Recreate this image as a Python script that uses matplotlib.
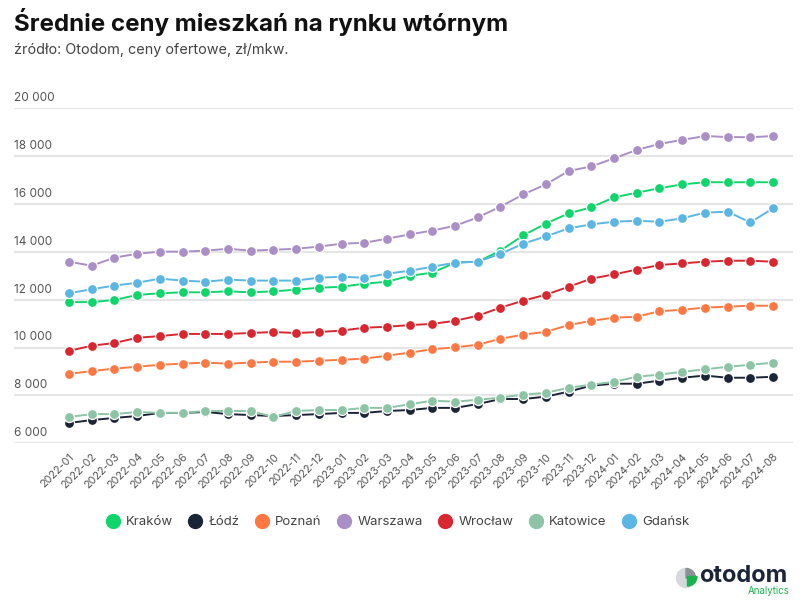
import matplotlib
matplotlib.use("Agg")
import matplotlib.pyplot as plt
import matplotlib.transforms as mtransforms
from matplotlib.lines import Line2D
from matplotlib.patches import Wedge

plt.rcParams['font.family'] = ['Inter', 'DejaVu Sans']

months = ["2022-01","2022-02","2022-03","2022-04","2022-05","2022-06","2022-07","2022-08",
          "2022-09","2022-10","2022-11","2022-12","2023-01","2023-02","2023-03","2023-04",
          "2023-05","2023-06","2023-07","2023-08","2023-09","2023-10","2023-11","2023-12",
          "2024-01","2024-02","2024-03","2024-04","2024-05","2024-06","2024-07","2024-08"]

krakow = [11900,11900,11990,12200,12270,12310,12310,12350,12310,12350,12420,12500,
          12540,12670,12750,13000,13130,13550,13590,14050,14690,15180,15610,15860,
          16280,16470,16660,16820,16910,16910,16910,16910]
lodz = [6850,6970,7060,7140,7270,7270,7310,7220,7180,7140,7180,7220,
        7270,7270,7350,7390,7480,7480,7640,7850,7850,7950,8160,8410,
        8490,8490,8620,8740,8830,8740,8740,8780]
poznan = [8900,9020,9120,9200,9280,9330,9370,9330,9370,9410,9410,9450,
          9490,9540,9660,9790,9930,10010,10120,10370,10540,10660,10940,11120,
          11250,11290,11520,11580,11670,11710,11750,11750]
warszawa = [13590,13420,13760,13920,14010,14010,14050,14130,14050,14090,14130,14220,
            14340,14380,14550,14730,14890,15090,15440,15890,16400,16820,17380,17570,
            17910,18260,18510,18680,18840,18800,18790,18840]
wroclaw = [9860,10080,10190,10410,10480,10570,10570,10570,10610,10650,10610,10650,
           10710,10830,10870,10940,10990,11120,11330,11670,11960,12210,12540,12880,
           13060,13260,13450,13520,13590,13630,13630,13590]
katowice = [7100,7220,7220,7310,7270,7270,7350,7350,7350,7100,7350,7390,
            7390,7480,7480,7630,7780,7740,7820,7910,8030,8110,8320,8450,
            8570,8780,8870,8990,9090,9200,9280,9370]
gdansk = [12270,12440,12590,12710,12880,12800,12750,12840,12800,12800,12800,12920,
          12960,12920,13090,13210,13380,13550,13590,13920,14340,14650,14980,15150,
          15260,15300,15260,15400,15640,15680,15230,15820]

series_names = ["Kraków", "Łódź", "Poznań", "Warszawa", "Wrocław", "Katowice", "Gdańsk"]
series_values = [krakow, lodz, poznan, warszawa, wroclaw, katowice, gdansk]
colors = ["#0fd66b", "#1c2438", "#ff7843", "#a98fc6", "#d9262f", "#8cc4a5", "#5bb6e4"]

yticks = [6000, 8000, 10000, 12000, 14000, 16000, 18000, 20000]
ytick_labels = ["6 000", "8 000", "10 000", "12 000", "14 000", "16 000", "18 000", "20 000"]

fig = plt.figure(figsize=(8, 6), dpi=100)
ax = fig.add_axes([14/800, 1-443.3/600, (793-14)/800, (443.3-108.3)/600])

x = list(range(len(months)))
order = [1, 5, 2, 4, 0, 6, 3]
for i in order:
    ax.plot(x, series_values[i], color=colors[i], lw=1.4, marker='o', ms=7.2,
            mec='white', mew=0.9, zorder=3 + i * 0.1)

ax.set_xlim(-(69-14)/22.71, 31 + (793-773)/22.71)
ax.set_ylim(6000, 20000)
for s in ax.spines.values():
    s.set_visible(False)
ax.set_yticks(yticks)
ax.set_yticklabels([])
ax.tick_params(axis='y', length=0)
ax.grid(axis='y', color='#e5e5e5', lw=1.5, zorder=0)
ax.set_axisbelow(True)
ax.set_xticks(x)
ax.set_xticklabels(months, rotation=45, ha='right', rotation_mode='anchor',
                   fontsize=7.8, color='#555555')
ax.tick_params(axis='x', length=0, pad=6)

trans = mtransforms.blended_transform_factory(ax.transAxes, ax.transData)
offset = mtransforms.ScaledTranslation(0, 3/72, fig.dpi_scale_trans)
for v, lab in zip(yticks, ytick_labels):
    ax.text(0, v, lab, transform=trans + offset, ha='left', va='bottom',
            fontsize=8.5, color='#555555')

fig.text(14/800, 1-22/600, "Średnie ceny mieszkań na rynku wtórnym", fontsize=17.4,
         fontweight='bold', color='#111111', ha='left', va='center')
fig.text(14/800, 1-50/600, "źródło: Otodom, ceny ofertowe, zł/mkw.", fontsize=10.4,
         color='#444444', ha='left', va='center')

handles = [Line2D([], [], ls='none', marker='o', ms=10, color=c, mec=c) for c in colors]
fig.legend(handles, series_names, loc='center', bbox_to_anchor=(0.497, 1-522/600),
           ncol=7, frameon=False, fontsize=9.5, labelcolor='#444444',
           handletextpad=0.5, columnspacing=1.2, handlelength=1.0)

# logo
lax = fig.add_axes([0, 0, 1, 1], zorder=-1)
lax.set_xlim(0, 800)
lax.set_ylim(600, 0)
lax.axis('off')
cx, cy, r = 686, 578, 9.5
lax.add_patch(Wedge((cx, cy), r, 0, 360, color='#d5d8dc'))
lax.add_patch(Wedge((cx, cy), r, 270, 360, color='#8c9197'))
lax.add_patch(Wedge((cx + 1.5, cy - 1.5), r, 0, 90, color='#19b34b'))
lax.text(699, 576, "otodom", fontsize=17, fontweight='bold', color='#1c2438',
         ha='left', va='center')
lax.text(790, 591, "Analytics", fontsize=7, color='#19b34b', ha='right', va='center')

fig.savefig("out.png", dpi=100)
